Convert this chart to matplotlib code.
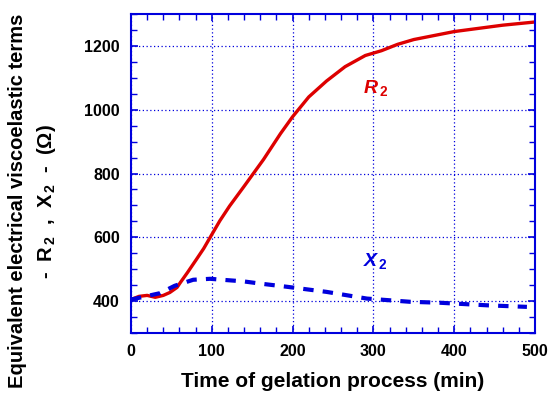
import matplotlib.pyplot as plt
from matplotlib.ticker import MultipleLocator

plt.rcParams["font.family"] = ["Liberation Sans", "DejaVu Sans"]
plt.rcParams["font.weight"] = "bold"
plt.rcParams["mathtext.fontset"] = "custom"
plt.rcParams["mathtext.rm"] = "Liberation Sans:bold"
plt.rcParams["mathtext.it"] = "Liberation Sans:italic:bold"
plt.rcParams["mathtext.bf"] = "Liberation Sans:bold"

# R2 curve (time in min, ohm)
r2_time = [0, 10, 20, 30, 40, 48, 57, 61, 70, 81, 90, 98, 110, 122, 140, 164,
           185, 200, 220, 242, 265, 290, 310, 330, 350, 380, 400, 430, 460, 500]
r2_vals = [405, 415, 418, 412, 418, 427, 443, 458, 490, 531, 565, 600, 652,
           698, 760, 844, 925, 978, 1040, 1090, 1135, 1170, 1185, 1205, 1220,
           1235, 1245, 1255, 1265, 1275]

# X2 curve
x2_time = [0, 11, 36, 54, 77, 98, 118, 139, 160, 193, 242, 292, 345, 382,
           440, 490]
x2_vals = [405, 411, 425, 448, 467, 470, 466, 462, 455, 445, 429, 408, 398,
           395, 387, 382]

blue = "#0000dd"
red = "#dd0000"

fig = plt.figure(figsize=(5.49, 3.96), dpi=100)
ax = fig.add_axes([0.2386, 0.159, 0.7359, 0.8056])

ax.plot(r2_time, r2_vals, color=red, lw=2.4, solid_capstyle="round")
ax.plot(x2_time, x2_vals, color=blue, lw=3.0, linestyle=(0, (2.5, 2.2)))

ax.set_xlim(0, 500)
ax.set_ylim(300, 1300)
ax.xaxis.set_major_locator(MultipleLocator(100))
ax.xaxis.set_minor_locator(MultipleLocator(20))
ax.yaxis.set_major_locator(MultipleLocator(200))
ax.yaxis.set_minor_locator(MultipleLocator(50))
ax.tick_params(which="both", direction="in", top=True, right=True,
               color=blue, labelsize=11.5, pad=8)
ax.tick_params(which="major", length=5, width=1.2)
ax.tick_params(which="minor", length=4, width=1.0)
for lab in ax.get_xticklabels() + ax.get_yticklabels():
    lab.set_fontweight("bold")

ax.grid(True, which="major", color=blue, linestyle=(0, (1, 2)), lw=0.9)
for s in ax.spines.values():
    s.set_color(blue)
    s.set_linewidth(1.5)

ax.text(303, 1068, "$R_{\\,2}$", color=red, fontsize=14,
        ha="center", va="center")
ax.text(302, 525, "$X_{\\,2}$", color=blue, fontsize=14,
        ha="center", va="center")

ax.set_xlabel("Time of gelation process (min)", fontsize=15,
              fontweight="bold", labelpad=9)
fig.text(0.032, 0.492, "Equivalent electrical viscoelastic terms",
         rotation=90, fontsize=14.5, fontweight="bold", ha="center",
         va="center")
fig.text(0.084, 0.492,
         "-  $\\mathrm{R}_{\\,2}$  ,  $\\mathrm{X}_{\\,2}$  -  (Ω)",
         rotation=90, fontsize=14.5, fontweight="bold", ha="center",
         va="center")

fig.savefig("out.png", dpi=100)
